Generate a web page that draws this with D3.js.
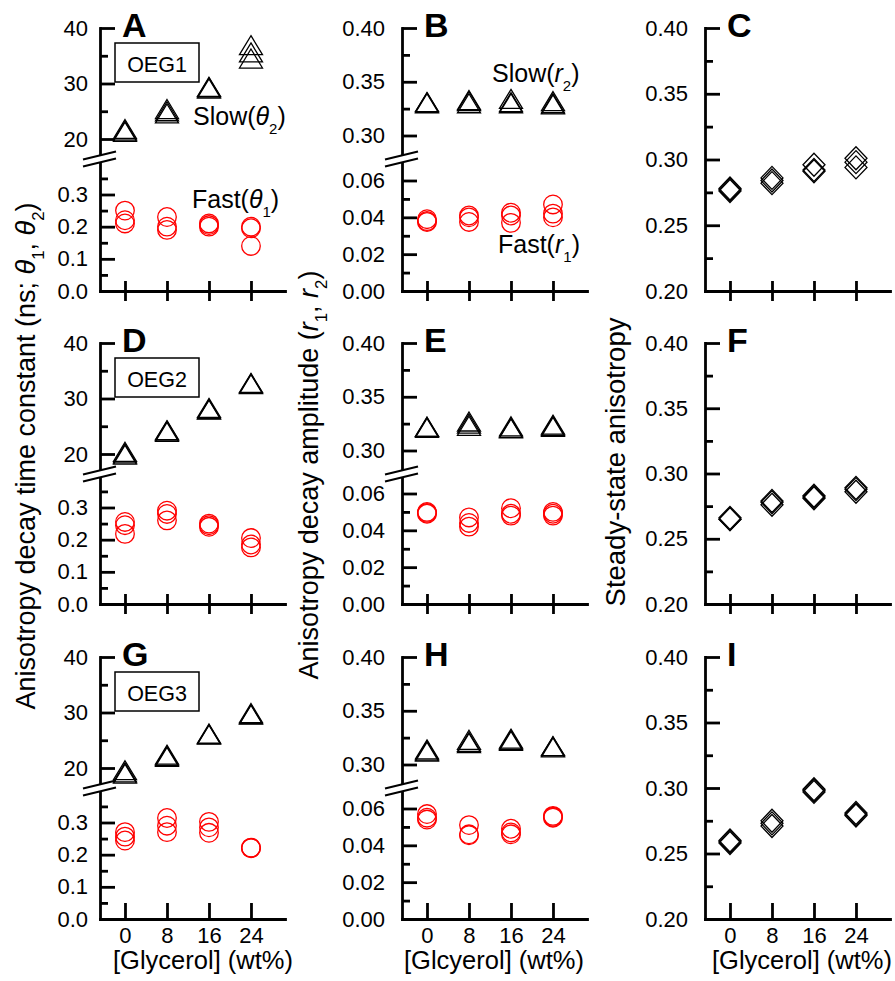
<!DOCTYPE html>
<html>
<head>
<meta charset="utf-8">
<script src="https://cdn.jsdelivr.net/npm/d3@7"></script>
<style>
  body { margin: 0; background: #fff; }
  svg text { font-family: "Liberation Sans", Arial, Helvetica, sans-serif; fill: #000; }
</style>
</head>
<body>
<svg id="chart" width="895" height="981"></svg>
<script>
// Glycerol content (wt%) on every x axis
const glycerol = [0, 8, 16, 24];
const glycerolLabels = ["0", "8", "16", "24"];

// Each row below: replicate values at 0, 8, 16, 24 wt% glycerol
// OEG1
const slowTheta1 = [[21.8, 21.5, 21.3], [25.4, 25.0, 24.6], [29.4, 29.3, 29.1], [36.9, 35.6, 34.5]];
const fastTheta1 = [[0.25, 0.22, 0.21], [0.23, 0.20, 0.19], [0.21, 0.205, 0.20], [0.20, 0.195, 0.14]];
const slowAmp1   = [[0.331, 0.331, 0.330], [0.333, 0.332, 0.330], [0.334, 0.331, 0.330], [0.332, 0.330, 0.329]];
const fastAmp1   = [[0.039, 0.038, 0.0375], [0.041, 0.040, 0.0375], [0.0425, 0.041, 0.037], [0.047, 0.042, 0.040]];
const steady1    = [[0.278, 0.277, 0.276], [0.286, 0.284, 0.282], [0.296, 0.292, 0.291], [0.301, 0.298, 0.294]];
// OEG2
const slowTheta2 = [[20.4, 20.1, 19.9], [24.3, 24.2, 24.0], [28.3, 28.1, 28.0], [32.8, 32.7, 32.6]];
const fastTheta2 = [[0.255, 0.245, 0.218], [0.29, 0.28, 0.26], [0.25, 0.245, 0.24], [0.205, 0.185, 0.176]];
const slowAmp2   = [[0.322, 0.322, 0.321], [0.327, 0.325, 0.323], [0.3225, 0.321, 0.3205], [0.324, 0.323, 0.322]];
const fastAmp2   = [[0.050, 0.0495, 0.049], [0.047, 0.044, 0.042], [0.052, 0.049, 0.048], [0.050, 0.049, 0.048]];
const steady2    = [[0.266, 0.265, 0.265], [0.279, 0.278, 0.276], [0.283, 0.282, 0.281], [0.289, 0.288, 0.286]];
// OEG3
const slowTheta3 = [[19.6, 19.2, 19.0], [22.4, 22.2, 22.0], [26.2, 26.1, 26.0], [29.9, 29.7, 29.6]];
const fastTheta3 = [[0.27, 0.256, 0.244], [0.314, 0.29, 0.27], [0.302, 0.285, 0.268], [0.222, 0.221, 0.220]];
const slowAmp3   = [[0.314, 0.313, 0.312], [0.323, 0.321, 0.320], [0.324, 0.323, 0.322], [0.317, 0.317, 0.316]];
const fastAmp3   = [[0.057, 0.055, 0.054], [0.051, 0.046, 0.0455], [0.049, 0.047, 0.046], [0.056, 0.0555, 0.055]];
const steady3    = [[0.260, 0.259, 0.258], [0.275, 0.273, 0.271], [0.299, 0.298, 0.297], [0.281, 0.280, 0.279]];

const samples = ["OEG1", "OEG2", "OEG3"];
const panelLetters = [["A", "B", "C"], ["D", "E", "F"], ["G", "H", "I"]];

// Tick values
const timeUpperMajor = [20, 30, 40], timeUpperMinor = [25, 35];
const timeLowerMajor = [0, 0.1, 0.2, 0.3], timeLowerMinor = [0.05, 0.15, 0.25, 0.35];
const ampUpperMajor = [0.30, 0.35, 0.40], ampUpperMinor = [0.325, 0.375];
const ampLowerMajor = [0, 0.02, 0.04, 0.06], ampLowerMinor = [0.01, 0.03, 0.05];
const steadyMajor = [0.20, 0.25, 0.30, 0.35, 0.40], steadyMinor = [0.225, 0.275, 0.325, 0.375];

const slowSeries = [slowTheta1, slowTheta2, slowTheta3];
const fastSeries = [fastTheta1, fastTheta2, fastTheta3];
const slowAmpSeries = [slowAmp1, slowAmp2, slowAmp3];
const fastAmpSeries = [fastAmp1, fastAmp2, fastAmp3];
const steadySeries = [steady1, steady2, steady3];

// ---- layout ----
const svg = d3.select("#chart");
const axisX = [100, 402, 705];
const rowTop = [28, 343, 657];
const rowBottom = [291, 604, 919];
const plotW = 185;
const upperEnd = 127;     // upper segment length below top (px)
const lowerLen = 128;     // lower segment length above bottom (px)

const f1 = d3.format(".1f"), f2 = d3.format(".2f");
const RED = "#ff0000";

function styleAxis(g) {
  g.selectAll(".domain").attr("stroke", "#000").attr("stroke-width", 2.8).attr("stroke-linecap", "square");
  g.selectAll(".tick line").attr("stroke", "#000").attr("stroke-width", 2.8);
  g.selectAll(".tick text").attr("font-size", 22).attr("fill", "#000");
}

function drawYAxis(scale, major, minor, fmt, pad) {
  const g = svg.append("g").attr("transform", `translate(${scale.ax},0)`);
  g.call(d3.axisLeft(scale).tickValues(major).tickFormat(fmt)
    .tickSizeInner(-15).tickSizeOuter(0).tickPadding(pad));
  styleAxis(g);
  const gm = svg.append("g").attr("transform", `translate(${scale.ax},0)`);
  gm.call(d3.axisLeft(scale).tickValues(minor).tickFormat("").tickSizeInner(-8).tickSizeOuter(0));
  gm.select(".domain").remove();
  styleAxis(gm);
}

// segment scale: value->pixel mapping defined by two reference points, trimmed to [yA,yB]
function segment(ax, v0, p0, v1, p1, yA, yB) {
  const base = d3.scaleLinear().domain([v0, v1]).range([p0, p1]);
  const s = d3.scaleLinear().domain([base.invert(yA), base.invert(yB)]).range([yA, yB]);
  s.ax = ax;
  return s;
}

function drawBreak(ax, cy) {
  const g = svg.append("g");
  const dx0 = -17, dx1 = 16, rise = 8, gap = 3.5;
  g.append("path")
    .attr("d", `M${ax+dx0},${cy+rise/2-gap} L${ax+dx1},${cy-rise/2-gap} L${ax+dx1},${cy-rise/2+gap} L${ax+dx0},${cy+rise/2+gap} Z`)
    .attr("fill", "#fff");
  [-gap, gap].forEach(o => {
    g.append("line")
      .attr("x1", ax + dx0).attr("y1", cy + rise/2 + o)
      .attr("x2", ax + dx1).attr("y2", cy - rise/2 + o)
      .attr("stroke", "#000").attr("stroke-width", 2);
  });
}

const triPath = "M0,-9.5 L11.5,9.5 L-11.5,9.5 Z";
const diaPath = "M0,-11.5 L11,0 L0,11.5 L-11,0 Z";

function drawMarkers(xs, ys, series, kind) {
  const pts = [];
  series.forEach((reps, i) => reps.forEach(v => pts.push({ g: glycerol[i], v })));
  const g = svg.append("g");
  if (kind === "circle") {
    g.selectAll("circle").data(pts).join("circle")
      .attr("cx", d => xs(d.g)).attr("cy", d => ys(d.v)).attr("r", 9.3)
      .attr("fill", "none").attr("stroke", RED).attr("stroke-width", 1.3);
  } else {
    g.selectAll("path").data(pts).join("path")
      .attr("transform", d => `translate(${xs(d.g)},${ys(d.v)})`)
      .attr("d", kind === "tri" ? triPath : diaPath)
      .attr("fill", "none").attr("stroke", "#000").attr("stroke-width", 1.3);
  }
}

// text with an italic symbol and a subscript
function labelWithSub(x, y, pre, sym, sub, post, size) {
  const t = svg.append("text").attr("x", x).attr("y", y).attr("font-size", size);
  t.append("tspan").text(pre);
  t.append("tspan").attr("font-style", "italic").text(sym);
  t.append("tspan").attr("font-size", size * 0.6).attr("dy", size * 0.36).text(sub);
  t.append("tspan").attr("dy", -size * 0.36).text(post);
  return t;
}

for (let r = 0; r < 3; r++) {
  const top = rowTop[r], bottom = rowBottom[r];
  for (let c = 0; c < 3; c++) {
    const ax = axisX[c];
    const x = d3.scaleLinear().domain([-4.76, 30.48]).range([ax, ax + plotW]);

    if (c === 0) {
      const up = segment(ax, 20, top + 111, 40, top, top + upperEnd, top);
      const lo = segment(ax, 0, bottom, 0.3, bottom - 96.5, bottom, bottom - lowerLen);
      drawYAxis(up, timeUpperMajor, timeUpperMinor, d => d3.format("d")(d), 12);
      drawYAxis(lo, timeLowerMajor, timeLowerMinor, f1, 12);
      drawBreak(ax, top + 131);
      drawMarkers(x, up, slowSeries[r], "tri");
      drawMarkers(x, lo, fastSeries[r], "circle");
      // sample box
      svg.append("rect").attr("x", ax + 15).attr("y", top + 15).attr("width", 84).attr("height", 39)
        .attr("fill", "#fff").attr("stroke", "#000").attr("stroke-width", 1.5);
      svg.append("text").attr("x", ax + 57).attr("y", top + 44).attr("text-anchor", "middle")
        .attr("font-size", 21.5).text(samples[r]);
      if (r === 0) {
        labelWithSub(ax + 93, top + 97, "Slow(", "θ", "2", ")", 25);
        labelWithSub(ax + 92, top + 180, "Fast(", "θ", "1", ")", 25);
      }
    } else if (c === 1) {
      const up = segment(ax, 0.30, top + 107.5, 0.40, top, top + upperEnd, top);
      const lo = segment(ax, 0, bottom, 0.06, bottom - 110.5, bottom, bottom - lowerLen);
      drawYAxis(up, ampUpperMajor, ampUpperMinor, f2, 17);
      drawYAxis(lo, ampLowerMajor, ampLowerMinor, f2, 17);
      drawBreak(ax, top + 131);
      drawMarkers(x, up, slowAmpSeries[r], "tri");
      drawMarkers(x, lo, fastAmpSeries[r], "circle");
      if (r === 0) {
        labelWithSub(ax + 90, top + 54, "Slow(", "r", "2", ")", 25);
        labelWithSub(ax + 96, top + 225, "Fast(", "r", "1", ")", 25);
      }
    } else {
      const ys = d3.scaleLinear().domain([0.20, 0.40]).range([bottom, top]);
      ys.ax = ax;
      drawYAxis(ys, steadyMajor, steadyMinor, f2, 17);
      drawMarkers(x, ys, steadySeries[r], "dia");
    }

    // x axis: inward ticks (and outward halves on the upper rows)
    const gx = svg.append("g").attr("transform", `translate(0,${bottom})`);
    gx.call(d3.axisBottom(x).tickValues(glycerol)
      .tickFormat((d, i) => r === 2 ? glycerolLabels[i] : "")
      .tickSizeInner(r === 2 ? -16 : -10).tickSizeOuter(0).tickPadding(8));
    styleAxis(gx);
    if (r < 2) {
      const gx2 = svg.append("g").attr("transform", `translate(0,${bottom})`);
      gx2.call(d3.axisBottom(x).tickValues(glycerol).tickFormat("").tickSizeInner(10).tickSizeOuter(0));
      gx2.select(".domain").remove();
      styleAxis(gx2);
    }

    // panel letter
    svg.append("text").attr("x", ax + 22).attr("y", top + 9)
      .attr("font-size", 34).attr("font-weight", "bold").text(panelLetters[r][c]);
  }
}

// x-axis titles
const xTitles = ["[Glycerol] (wt%)", "[Glcyerol] (wt%)", "[Glycerol] (wt%)"];
const xTitleCenters = [203, 494, 802];
xTitles.forEach((t, i) => {
  svg.append("text").attr("x", xTitleCenters[i]).attr("y", 969)
    .attr("text-anchor", "middle").attr("font-size", 25.5).text(t);
});

// y-axis titles
function yTitle(x, y, size, parts) {
  const t = svg.append("text").attr("transform", `translate(${x},${y}) rotate(-90)`)
    .attr("text-anchor", "middle").attr("font-size", size);
  parts.forEach(p => {
    const s = t.append("tspan").text(p.t);
    if (p.i) s.attr("font-style", "italic");
    if (p.sub) s.attr("font-size", size * 0.62).attr("dy", 9);
    if (p.up) s.attr("dy", -9);
  });
}
yTitle(35, 456, 27, [
  { t: "Anisotropy decay time constant (ns; " }, { t: "θ", i: 1 }, { t: "1", sub: 1 },
  { t: ", ", up: 1 }, { t: "θ", i: 1 }, { t: "2", sub: 1 }, { t: ")", up: 1 }
]);
yTitle(318, 475, 27, [
  { t: "Anisotropy decay amplitude (" }, { t: "r", i: 1 }, { t: "1", sub: 1 },
  { t: ", ", up: 1 }, { t: "r", i: 1 }, { t: "2", sub: 1 }, { t: ")", up: 1 }
]);
yTitle(625, 462, 27.5, [{ t: "Steady-state anisotropy" }]);
</script>
</body>
</html>
